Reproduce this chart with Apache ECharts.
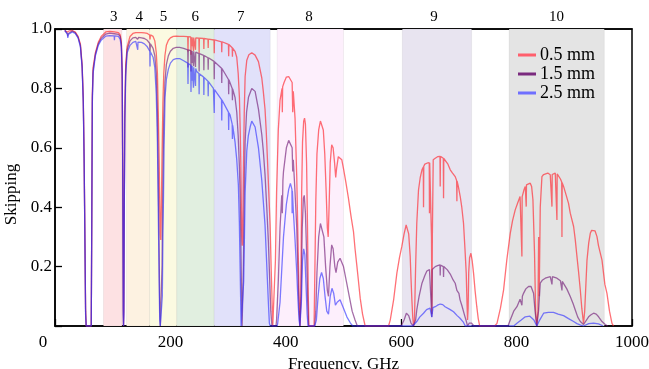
<!DOCTYPE html>
<html><head><meta charset="utf-8">
<script src="https://cdn.jsdelivr.net/npm/echarts@6/dist/echarts.min.js"></script>
<style>html,body{margin:0;padding:0;background:#fff}#c{width:649px;height:369px}</style>
</head><body><div id="c"></div>
<script>
// ALMA bands (GHz)
const bandNames = ['3','4','5','6','7','8','9','10'];
const bandCenters = [102, 146, 188, 243, 322, 440, 657, 869];
const bandLow  = [84, 124, 164, 211, 276, 385, 602, 787];
const bandHigh = [116, 164, 211, 276, 373, 500, 722, 952];
const bandColors = ['#fde1e3','#fdf2e1','#fbfae1','#e1efe0','#e1e1fa','#fdeffc','#e8e4f0','#e4e4e4'];

const xTicks = [0, 200, 400, 600, 800, 1000];
const yTicks = [0.2, 0.4, 0.6, 0.8, 1.0];
const seriesNames = ['0.5 mm', '1.5 mm', '2.5 mm'];

// transmission, 0.5 mm PWV  [GHz, value]
const pwv05 = [[17,0.995],[20,0.994],[21.5,0.99],[22.2,0.984],[23,0.99],[25,0.994],[30,0.995],[35,0.99],[40,0.975],[44,0.95],[47,0.88],[49,0.77],[50.5,0.57],[52,0.27],[53,0.06],[54,0],[62.8,0],[63.8,0.4],[64.7,0.78],[66,0.87],[70,0.92],[75,0.955],[80,0.975],[88,0.99],[95,0.992],[103,0.99],[110,0.988],[113,0.98],[115,0.955],[116.5,0.86],[117.5,0.5],[118.3,0.06],[118.75,0],[119.3,0.06],[120,0.4],[121,0.72],[122.5,0.88],[125,0.94],[130,0.975],[135,0.985],[140,0.988],[145,0.988],[150,0.988],[155,0.987],[160,0.985],[164,0.98],[164.7,0.965],[165.4,0.98],[170,0.975],[173,0.96],[175.5,0.92],[177.5,0.85],[179,0.72],[180.5,0.56],[181.5,0.42],[182.5,0.31],[183.3,0.29],[184.3,0.4],[185.5,0.57],[187,0.75],[188.5,0.85],[190.5,0.91],[193,0.945],[196.5,0.962],[200,0.97],[205,0.975],[210,0.976],[216,0.975],[223,0.975],[230,0.974],[230.5,0.924],[231,0.974],[235.2,0.973],[235.7,0.913],[236.2,0.972],[236.8,0.972],[237.2,0.942],[237.6,0.972],[239.6,0.971],[240,0.926],[240.4,0.971],[243.1,0.97],[243.5,0.93],[243.9,0.97],[249.4,0.969],[249.8,0.919],[250.2,0.969],[257.6,0.968],[258,0.933],[258.4,0.968],[265.1,0.966],[265.5,0.936],[265.9,0.966],[275.6,0.963],[276,0.918],[276.4,0.963],[288.6,0.957],[289,0.922],[289.4,0.957],[300.6,0.948],[301,0.908],[301.4,0.948],[307.1,0.937],[307.5,0.907],[307.9,0.936],[312,0.925],[315,0.905],[317.5,0.85],[319.6,0.77],[321,0.66],[322,0.55],[323,0.4],[323.7,0.3],[324.5,0.27],[325.3,0.3],[326.5,0.52],[328,0.72],[329.5,0.84],[332.4,0.895],[336,0.913],[341,0.92],[346.8,0.912],[352.6,0.89],[358.4,0.835],[361,0.79],[364,0.73],[366,0.66],[368,0.57],[370.5,0.45],[372.8,0.34],[375,0.17],[377.4,0],[379.8,0],[382,0.22],[384,0.45],[387,0.66],[390,0.76],[393.5,0.8],[394,0.72],[394.5,0.805],[397,0.82],[401,0.838],[405,0.84],[408,0.835],[411,0.82],[412,0.72],[413,0.79],[416,0.7],[419,0.5],[421,0.3],[423,0.1],[424.5,0],[426,0.1],[427.5,0.45],[429,0.62],[431,0.69],[432.5,0.7],[434,0.68],[436,0.55],[437.5,0.35],[439,0.1],[440,0],[449,0],[450.5,0.2],[452,0.42],[454,0.58],[457,0.66],[460,0.69],[462.5,0.69],[465,0.66],[467.5,0.58],[470,0.45],[472,0.33],[473.5,0.3],[475,0.4],[477,0.55],[479.5,0.61],[482,0.6],[484.5,0.55],[486.5,0.5],[488,0.53],[491,0.57],[494,0.576],[497,0.56],[500,0.53],[504,0.485],[508.6,0.43],[513,0.37],[517.3,0.318],[520,0.26],[523,0.206],[526,0.15],[529,0.093],[533,0.04],[537.5,0],[578,0],[581,0.02],[587,0.09],[592.5,0.178],[597,0.23],[601,0.267],[605,0.31],[608.6,0.34],[611,0.335],[613,0.31],[615.6,0.234],[617,0.16],[618.5,0.088],[620,0.03],[621.5,0],[623,0.02],[625,0.2],[627,0.346],[630,0.458],[633,0.5],[636,0.526],[638.3,0.535],[638.7,0.40],[639.1,0.538],[641,0.545],[644.5,0.548],[648.6,0.55],[649,0.38],[649.4,0.55],[651,0.55],[652.5,0.3],[653.2,0.04],[654,0.3],[655.5,0.56],[659,0.565],[663,0.57],[667.2,0.571],[667.6,0.47],[668,0.571],[670,0.57],[673,0.565],[673.4,0.43],[673.8,0.564],[676,0.56],[681,0.545],[685,0.526],[689,0.515],[693.6,0.503],[696.1,0.49],[696.5,0.42],[696.9,0.488],[699,0.47],[702.3,0.436],[705,0.40],[708,0.346],[710.5,0.26],[712.7,0.178],[714,0.08],[715,0.02],[716,0.06],[717,0.18],[718.5,0.23],[720.8,0.245],[723,0.22],[725.4,0.178],[728,0.12],[731,0.065],[733.5,0.025],[736,0],[762,0],[766,0.009],[772,0.06],[777.4,0.121],[783,0.222],[789,0.312],[793,0.355],[797.6,0.391],[802,0.415],[806,0.436],[808.8,0.43],[809.2,0.234],[809.6,0.435],[813,0.46],[815,0.47],[816.3,0.472],[816.7,0.402],[817.1,0.475],[820,0.479],[823.7,0.481],[826,0.47],[828.3,0.425],[831,0.25],[833,0.05],[835,0],[837,0.05],[838.2,0.3],[839,0.1],[839.8,0.2],[841,0.4],[843.9,0.503],[846.8,0.51],[849.7,0.515],[854,0.515],[858.3,0.509],[860.9,0.508],[861.3,0.402],[861.7,0.51],[867,0.515],[869.5,0.512],[869.9,0.357],[870.3,0.512],[872.8,0.509],[876,0.495],[878.2,0.485],[878.6,0.3],[879,0.482],[881.4,0.47],[886,0.44],[890,0.413],[893,0.38],[898.8,0.335],[901.7,0.29],[904.6,0.234],[907.5,0.18],[910.4,0.121],[913,0.06],[916,0.009],[918,0.05],[922,0.222],[925,0.28],[927.7,0.312],[930,0.322],[933.4,0.324],[936,0.32],[939.3,0.301],[942,0.27],[948,0.222],[953,0.14],[956.6,0.11],[961,0.05],[965.3,0.009],[968,0]];

// transmission, 1.5 mm PWV
const pwv15 = [[17,0.995],[20,0.992],[21.5,0.985],[22.2,0.975],[23,0.985],[25,0.99],[30,0.993],[35,0.988],[40,0.972],[44,0.945],[47,0.875],[49,0.76],[50.5,0.56],[52,0.26],[53,0.05],[54,0],[62.8,0],[63.8,0.38],[64.7,0.77],[66,0.86],[70,0.915],[75,0.95],[80,0.968],[88,0.983],[95,0.986],[103,0.984],[110,0.982],[113,0.975],[115,0.95],[116.5,0.85],[117.5,0.49],[118.3,0.05],[118.75,0],[119.3,0.05],[120,0.38],[121,0.7],[122.5,0.86],[125,0.93],[130,0.96],[135,0.97],[140,0.972],[143,0.965],[145,0.972],[150,0.97],[155,0.968],[160,0.962],[164,0.952],[164.7,0.925],[165.4,0.95],[170,0.935],[173,0.91],[175.5,0.85],[177.5,0.72],[179,0.5],[180.5,0.25],[181.5,0.06],[182.5,0],[184,0],[185.5,0.2],[187,0.5],[188.5,0.7],[190.5,0.82],[193,0.88],[196.5,0.91],[200,0.925],[205,0.935],[210,0.938],[216,0.938],[223,0.935],[230,0.93],[230.5,0.87],[231,0.93],[235.2,0.927],[235.7,0.857],[236.2,0.927],[236.8,0.926],[237.2,0.886],[237.6,0.926],[239.6,0.925],[240,0.875],[240.4,0.925],[243.1,0.922],[243.5,0.872],[243.9,0.922],[249.4,0.917],[249.8,0.857],[250.2,0.917],[257.6,0.911],[258,0.861],[258.4,0.911],[265.1,0.903],[265.5,0.863],[265.9,0.903],[275.6,0.891],[276,0.831],[276.4,0.89],[288.6,0.868],[289,0.818],[289.4,0.867],[300.6,0.83],[301,0.78],[301.4,0.829],[307.1,0.8],[307.5,0.76],[307.9,0.798],[312,0.77],[315,0.72],[317.5,0.64],[319.5,0.54],[320.8,0.45],[322,0.3],[323.2,0.12],[324.3,0],[325.2,0],[326.5,0.2],[328,0.45],[329.5,0.62],[332,0.72],[335.3,0.77],[341,0.8],[346.8,0.79],[352.6,0.73],[358.4,0.644],[361,0.59],[364,0.51],[367,0.4],[369.9,0.28],[372,0.16],[374,0.05],[376,0],[383,0],[384,0.02],[387,0.15],[390,0.33],[393,0.44],[394,0.38],[395,0.49],[396,0.52],[401,0.6],[405,0.625],[408,0.63],[411,0.6],[412,0.52],[413,0.56],[416,0.45],[419,0.33],[421,0.18],[423,0.05],[424.5,0],[426.5,0.1],[428.5,0.33],[430.5,0.43],[432,0.44],[434,0.38],[436,0.25],[438,0.08],[439.5,0],[450,0],[452,0.05],[454,0.18],[457,0.3],[460,0.345],[463,0.35],[466,0.3],[469,0.2],[472,0.12],[474,0.1],[476.5,0.2],[479.5,0.273],[482,0.26],[485,0.2],[487,0.18],[490,0.215],[494,0.228],[500,0.2],[505,0.15],[510,0.1],[515,0.05],[520,0.02],[524,0],[600,0],[605,0.02],[609,0.043],[613,0.035],[617,0.01],[621,0],[625,0.02],[627,0.054],[631,0.1],[636,0.144],[641,0.17],[644.5,0.185],[649,0.19],[652.3,0.19],[653,0.03],[653.7,0.19],[655,0.19],[659,0.2],[663,0.203],[667.2,0.206],[667.6,0.17],[668,0.205],[673,0.2],[673.4,0.165],[673.8,0.2],[676,0.195],[680,0.189],[685,0.175],[690,0.155],[693.6,0.144],[696.5,0.12],[700,0.11],[702,0.088],[705,0.07],[710,0.035],[713,0.015],[715,0],[718,0.01],[722,0.01],[726,0],[785,0],[789,0.02],[795,0.05],[800.6,0.065],[806,0.09],[809.2,0.07],[810,0.1],[812,0.11],[816,0.125],[820.7,0.133],[825,0.133],[829.4,0.11],[832,0.05],[835,0],[838,0.05],[841,0.144],[845,0.155],[849.7,0.161],[858.3,0.166],[861.3,0.14],[862,0.166],[864,0.165],[869.9,0.161],[876,0.152],[878.6,0.12],[879.2,0.15],[881.4,0.144],[887,0.125],[893,0.099],[898,0.075],[901.7,0.054],[906,0.03],[910.4,0.015],[916,0.005],[919,0.01],[924.8,0.031],[929,0.038],[933.4,0.043],[938,0.04],[942.1,0.031],[948,0.015],[953.7,0.005],[958,0]];

// transmission, 2.5 mm PWV
const pwv25 = [[17,0.995],[20,0.99],[21.5,0.982],[22.2,0.97],[23,0.982],[25,0.988],[30,0.99],[35,0.985],[40,0.97],[44,0.94],[47,0.87],[49,0.75],[50.5,0.55],[52,0.25],[53,0.04],[54,0],[62.8,0],[63.8,0.36],[64.7,0.75],[66,0.85],[70,0.91],[75,0.945],[80,0.962],[88,0.976],[95,0.978],[102.6,0.977],[103,0.962],[103.4,0.977],[110,0.975],[113,0.965],[115,0.94],[116.5,0.83],[117.5,0.47],[118.3,0.04],[118.75,0],[119.3,0.04],[120,0.36],[121,0.68],[122.5,0.84],[125,0.92],[130,0.945],[135,0.955],[140,0.958],[143,0.956],[143.4,0.93],[143.8,0.956],[145,0.958],[150,0.955],[155,0.95],[160,0.94],[164.3,0.925],[164.7,0.874],[165.1,0.924],[170,0.905],[173,0.87],[175.5,0.78],[177.5,0.62],[179,0.38],[180.5,0.15],[181.5,0.02],[182.5,0],[184.5,0],[186,0.1],[187,0.3],[188,0.43],[189,0.6],[190.7,0.77],[193,0.83],[196.5,0.865],[200,0.885],[205,0.897],[210,0.9],[216.7,0.9],[223,0.893],[230,0.885],[230.5,0.815],[231,0.884],[235.2,0.878],[235.7,0.788],[236.2,0.877],[236.8,0.876],[237.2,0.826],[237.6,0.875],[239.6,0.872],[240,0.802],[240.4,0.871],[243.1,0.868],[243.5,0.808],[243.9,0.867],[245.6,0.857],[249.4,0.85],[249.8,0.78],[250.2,0.849],[257.6,0.838],[258,0.778],[258.4,0.837],[265.1,0.824],[265.5,0.774],[265.9,0.823],[274.5,0.8],[275.6,0.797],[276,0.717],[276.4,0.796],[288.6,0.762],[289,0.692],[289.4,0.761],[292,0.756],[300.6,0.72],[301,0.66],[301.4,0.718],[303.5,0.71],[307.1,0.68],[307.5,0.63],[307.9,0.676],[312,0.62],[315,0.56],[317.8,0.475],[319.5,0.35],[321,0.18],[322.5,0],[325.4,0],[327,0.15],[328.3,0.3],[329.5,0.45],[332.4,0.59],[335,0.64],[338.2,0.67],[341,0.69],[346.8,0.67],[352.6,0.6],[358.4,0.49],[361,0.42],[364,0.34],[366,0.25],[368,0.16],[370,0.07],[371.5,0.01],[373,0],[385,0],[386,0.01],[390,0.08],[393,0.19],[396,0.3],[401,0.41],[405,0.46],[408,0.48],[410.6,0.46],[411,0.38],[411.4,0.455],[413,0.39],[416,0.29],[419,0.18],[421,0.09],[423,0.02],[424.5,0],[425,0],[427,0.08],[429,0.22],[431,0.26],[433,0.24],[435,0.14],[437,0.04],[438.5,0],[450,0],[453,0.02],[456,0.1],[459,0.16],[462,0.18],[465,0.16],[468,0.1],[471,0.05],[474,0.04],[477,0.1],[480,0.127],[483,0.11],[486,0.07],[489,0.08],[494,0.088],[500,0.06],[506,0.03],[512,0.01],[516,0],[620,0],[627,0.015],[632,0.03],[638.7,0.043],[644,0.055],[650,0.06],[653,0.03],[655,0.062],[659,0.065],[663,0.07],[667.6,0.074],[672,0.072],[676,0.065],[685,0.055],[690.7,0.048],[697,0.035],[702,0.026],[708,0.012],[711,0],[795,0],[800.6,0.009],[808,0.02],[815,0.031],[823,0.033],[830,0.02],[835,0],[840,0.02],[846.8,0.043],[855,0.046],[864,0.046],[872,0.04],[881.4,0.035],[890,0.025],[898.8,0.015],[904.6,0.008],[911,0.003],[916,0],[925,0.008],[933.4,0.01],[942,0.007],[950,0]];

const FONT = '"Liberation Serif", "Times New Roman", serif';
const lineColors = ['rgba(255,35,45,0.65)', 'rgba(110,20,115,0.62)', 'rgba(45,45,255,0.62)'];
const legendColors = ['#ff5f6c', '#7a2a7e', '#6f6fff'];

const chart = echarts.init(document.getElementById('c'), null, {renderer: 'canvas'});

const bandAreas = bandLow.map((lo, i) => [
  {xAxis: lo, itemStyle: {color: bandColors[i], borderColor: 'rgba(0,0,0,0.05)', borderWidth: 1}},
  {xAxis: bandHigh[i]}
]);

const mkSeries = (name, data, i) => ({
  name, type: 'line', data, xAxisIndex: 0, yAxisIndex: 0,
  showSymbol: false, symbol: 'none', animation: false, z: 3 + i,
  lineStyle: {color: lineColors[i], width: 1.3},
  itemStyle: {color: legendColors[i]}
});

chart.setOption({
  animation: false,
  backgroundColor: '#fff',
  grid: {left: 55, right: 17, top: 29, bottom: 43, outerBoundsMode: 'none', containLabel: false,
         show: true, borderColor: '#000', borderWidth: 1.5, backgroundColor: 'transparent'},
  legend: {
    orient: 'vertical', left: 513, top: 41, itemWidth: 18, itemHeight: 3, itemGap: 1,
    icon: 'rect', data: seriesNames,
    textStyle: {fontFamily: FONT, fontSize: 18, color: '#000', padding: [0,0,0,-1]}
  },
  xAxis: [{
    type: 'value', min: 0, max: 1000, interval: 200, position: 'bottom',
    name: 'Frequency, GHz', nameLocation: 'middle', nameGap: 24,
    nameTextStyle: {fontFamily: FONT, fontSize: 17, color: '#000'},
    axisLine: {show: true, lineStyle: {color: '#000', width: 1.5}},
    axisTick: {show: true, inside: true, length: 7, lineStyle: {color: '#000', width: 1.3}},
    axisLabel: {
      fontFamily: FONT, fontSize: 17, color: '#000', margin: 8,
      formatter: v => v === 0 ? '{z|0}' : String(v),
      rich: {z: {fontFamily: FONT, fontSize: 17, color: '#000', padding: [0, 24, 0, 0]}}
    },
    splitLine: {show: false}
  }, {
    type: 'value', min: 0, max: 1000, position: 'top',
    axisLine: {show: true, lineStyle: {color: '#000', width: 1.5}},
    axisTick: {show: true, inside: true, length: 6, customValues: bandCenters, lineStyle: {color: '#000', width: 1.3}},
    axisLabel: {
      fontFamily: FONT, fontSize: 15, color: '#000', margin: 4, customValues: bandCenters,
      formatter: v => { const k = bandCenters.indexOf(v); return k >= 0 ? bandNames[k] : ''; }
    },
    splitLine: {show: false}
  }],
  yAxis: [{
    type: 'value', min: 0, max: 1, interval: 0.2,
    name: 'Skipping', nameLocation: 'middle', nameGap: 28, nameRotate: 90,
    nameTextStyle: {fontFamily: FONT, fontSize: 17, color: '#000', padding: [0, 34, 0, 0]},
    axisLine: {show: true, lineStyle: {color: '#000', width: 1.5}},
    axisTick: {show: true, inside: true, length: 7, lineStyle: {color: '#000', width: 1.3}},
    axisLabel: {
      fontFamily: FONT, fontSize: 17, color: '#000', margin: 3,
      formatter: v => (v === 0 ? '' : v.toFixed(1))
    },
    splitLine: {show: false}
  }],
  series: [
    {type: 'line', data: [], xAxisIndex: 0, yAxisIndex: 0, silent: true, z: 1,
     markArea: {silent: true, data: bandAreas}},
    mkSeries(seriesNames[0], pwv05, 0),
    mkSeries(seriesNames[1], pwv15, 1),
    mkSeries(seriesNames[2], pwv25, 2)
  ]
});
</script></body></html>
